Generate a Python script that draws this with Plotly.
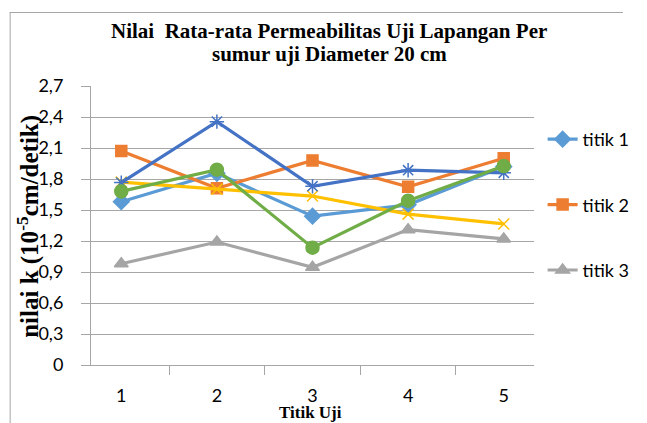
import plotly.graph_objects as go

categories = ["1", "2", "3", "4", "5"]
titik1 = [1.58, 1.855, 1.44, 1.55, 1.92]
titik2 = [2.07, 1.71, 1.98, 1.725, 2.00]
titik3 = [0.98, 1.19, 0.945, 1.31, 1.22]
titik4 = [1.77, 1.70, 1.635, 1.46, 1.365]
titik5 = [1.765, 2.355, 1.73, 1.885, 1.86]
titik6 = [1.68, 1.89, 1.135, 1.59, 1.925]
series_names = ["titik 1", "titik 2", "titik 3", "titik 4", "titik 5", "titik 6"]
ytick_vals = [0, 0.3, 0.6, 0.9, 1.2, 1.5, 1.8, 2.1, 2.4, 2.7]
ytick_text = ["0", "0,3", "0,6", "0,9", "1,2", "1,5", "1,8", "2,1", "2,4", "2,7"]
title_lines = ["Nilai  Rata-rata Permeabilitas Uji Lapangan Per", "sumur uji Diameter 20 cm"]

series = [titik1, titik2, titik3, titik4, titik5, titik6]
colors = ["#5B9BD5", "#ED7D31", "#A5A5A5", "#FFC000", "#4472C4", "#70AD47"]
symbols = ["diamond", "square", "triangle-up", "x-thin-open", "asterisk-open", "circle"]
sizes = [12, 11, 12, 11, 12, 13]
show = [True, True, True, False, False, False]

fig = go.Figure()
for i, (name, vals) in enumerate(zip(series_names, series)):
    fig.add_trace(go.Scatter(
        x=categories, y=vals, name=name, mode="lines+markers",
        line=dict(color=colors[i], width=3.2),
        marker=dict(symbol=symbols[i], size=sizes[i], color=colors[i],
                    line=dict(color=colors[i], width=1.5)),
        showlegend=show[i], legendgroup=name,
    ))

W, H = 647, 423
L, R, T, B = 91, 93, 86, 58
pw, ph = W - L - R, H - T - B

def px(x):
    return (x - L) / pw

def py(y):
    return (H - B - y) / ph

gray = "#A6A6A6"
tickfont = dict(family="Lato", size=18, color="#000000")
serif_bold = dict(family="Liberation Serif", color="#000000", weight="bold")

fig.update_layout(
    width=W, height=H,
    margin=dict(l=L, r=R, t=T, b=B),
    paper_bgcolor="white", plot_bgcolor="white",
    xaxis=dict(type="category", categoryarray=categories, tickson="boundaries",
               ticks="outside", ticklen=9, tickcolor=gray, showline=True, linecolor=gray,
               linewidth=1, showgrid=False, zeroline=False, tickfont=tickfont,
               ticklabelstandoff=14),
    yaxis=dict(range=[0, 2.7], tickvals=ytick_vals, ticktext=ytick_text,
               ticks="outside", ticklen=9, tickcolor=gray, showline=True, linecolor=gray,
               showgrid=True, gridcolor=gray, gridwidth=1, zeroline=False,
               tickfont=tickfont, ticklabelstandoff=14),
    legend=dict(x=px(563), xanchor="left", y=py(121), yanchor="top",
                font=dict(family="Lato", size=18, color="#000000"),
                tracegroupgap=39, bgcolor="rgba(0,0,0,0)"),
    showlegend=True,
)

for txt, yc in zip(title_lines, [31, 54]):
    fig.add_annotation(text=txt, x=px(340), y=py(yc), xref="paper", yref="paper",
                       xanchor="center", yanchor="middle", showarrow=False,
                       font=dict(size=21, **serif_bold))

fig.add_annotation(text="nilai k (10<sup>-5</sup>cm/detik)", textangle=-90,
                   x=px(25), y=py(226), xref="paper", yref="paper",
                   xanchor="center", yanchor="middle", showarrow=False,
                   font=dict(size=25, **serif_bold))
fig.add_annotation(text="Titik Uji", x=px(320), y=py(412), xref="paper", yref="paper",
                   xanchor="center", yanchor="middle", showarrow=False,
                   font=dict(size=17, **serif_bold))

border = dict(color="#A6A6A6", width=1)
fig.add_shape(type="line", xref="paper", yref="paper",
              x0=px(6), y0=py(12.5), x1=px(647), y1=py(12.5), line=border, layer="above")
fig.add_shape(type="line", xref="paper", yref="paper",
              x0=px(6.5), y0=py(12.5), x1=px(6.5), y1=py(423), line=border, layer="above")

fig.write_html("out.html", config={"displayModeBar": False},
               post_script="document.body.style.margin='0';")
